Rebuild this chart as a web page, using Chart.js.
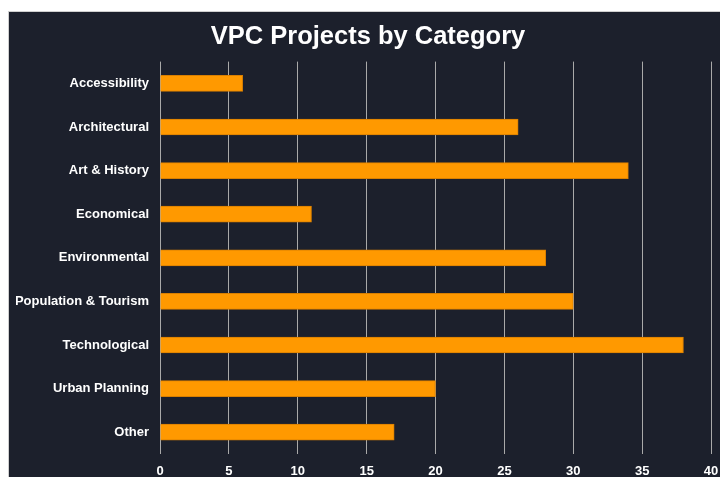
<!DOCTYPE html>
<html>
<head>
<meta charset="utf-8">
<script src="https://cdn.jsdelivr.net/npm/chart.js@4"></script>
<style>
    body { margin: 0; background: #ffffff; overflow: hidden; }
    .chart-box {
        position: absolute;
        left: 8px;
        top: 11px;
        width: 720px;
        height: 470px;
        background: #1c202c;
        border-left: 1px solid #cfcfcf;
        border-top: 1px solid #cfcfcf;
    }
</style>
</head>
<body>
<div class="chart-box">
    <canvas id="my-Category-Chart"></canvas>
</div>
<script>
// data proyek per kategori
const categories = [
    'Accessibility', 'Architectural', 'Art & History', 'Economical', 'Environmental',
    'Population & Tourism', 'Technological', 'Urban Planning', 'Other'
];
const projectCounts = [6, 26, 34, 11, 28, 30, 38, 20, 17];
const xTicks = [0, 5, 10, 15, 20, 25, 30, 35, 40];

const fontFamily = '"Liberation Sans", Arial, Helvetica, sans-serif';

// judul di tengah seluruh kanvas, bukan di tengah area padding
const centerTitle = {
    id: 'centerTitle',
    afterLayout(chart) {
        if (chart.titleBlock) {
            chart.titleBlock.left = 0;
            chart.titleBlock.right = chart.width - 2;
        }
    }
};

const ctx = document.getElementById('my-Category-Chart').getContext('2d');
new Chart(ctx, {
    type: 'bar',
    data: {
        labels: categories,
        datasets: [{
            label: 'Projects',
            data: projectCounts,
            backgroundColor: '#ff9900',
            borderColor: '#d97f00',
            borderWidth: 1,
            barThickness: 16
        }]
    },
    options: {
        indexAxis: 'y', // grafik horizontal
        responsive: true,
        maintainAspectRatio: false,
        animation: false,
        layout: {
            padding: { top: 0, left: 7, right: 18, bottom: 0 }
        },
        plugins: {
            legend: { display: false },
            tooltip: { enabled: false },
            title: {
                display: true,
                text: 'VPC Projects by Category',
                color: '#ffffff',
                font: { family: fontFamily, size: 25.5, weight: 'bold' },
                padding: { top: 10, bottom: 9 }
            }
        },
        scales: {
            x: {
                min: 0,
                max: 40,
                afterBuildTicks: axis => {
                    axis.ticks = xTicks.map(v => ({ value: v }));
                },
                afterFit: axis => { axis.height = 28; },
                grid: {
                    color: '#a9a9a9',
                    lineWidth: 1,
                    drawTicks: false
                },
                border: { display: false },
                ticks: {
                    color: '#ffffff',
                    padding: 10,
                    font: { family: fontFamily, size: 13, weight: 'bold' }
                }
            },
            y: {
                afterFit: axis => { axis.width = 144; },
                grid: { display: false, drawTicks: false },
                border: { display: false },
                ticks: {
                    color: '#ffffff',
                    padding: 11,
                    font: { family: fontFamily, size: 13, weight: 'bold' }
                }
            }
        }
    },
    plugins: [centerTitle]
});
</script>
</body>
</html>
